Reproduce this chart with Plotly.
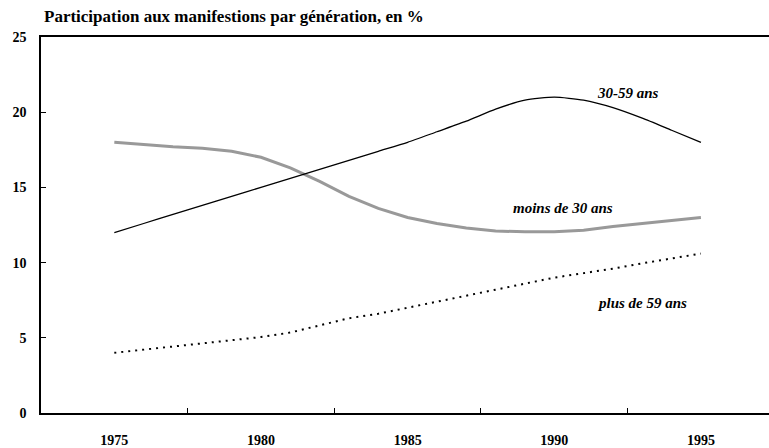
import plotly.graph_objects as go

years = list(range(1975, 1996))
age_30_59 = [12.0, 12.6, 13.2, 13.8, 14.4, 15.0, 15.6, 16.2, 16.8, 17.4, 18.0,
             18.7, 19.4, 20.2, 20.8, 21.0, 20.8, 20.3, 19.6, 18.8, 18.0]
moins_30 = [18.0, 17.85, 17.7, 17.6, 17.4, 17.0, 16.3, 15.4, 14.4, 13.6, 13.0,
            12.6, 12.3, 12.1, 12.05, 12.05, 12.15, 12.4, 12.6, 12.8, 13.0]
plus_59 = [4.0, 4.2, 4.4, 4.6, 4.8, 5.05, 5.35, 5.8, 6.3, 6.6, 7.0,
           7.4, 7.8, 8.2, 8.6, 9.0, 9.3, 9.6, 9.95, 10.3, 10.6]

label_years = [1975, 1980, 1985, 1990, 1995]
tick_marks = [1977.5, 1982.5, 1987.5, 1992.5]
y_ticks = [0, 5, 10, 15, 20, 25]

series_labels = [
    ("30-59 ans", 1992.5, 21.3),
    ("moins de 30 ans", 1990.3, 13.6),
    ("plus de 59 ans", 1993.0, 7.3),
]

serif = "Liberation Serif, Times New Roman, DejaVu Serif, serif"

fig = go.Figure()
fig.add_trace(go.Scatter(x=years, y=moins_30, mode="lines",
                         line=dict(color="#999999", width=3), showlegend=False))
fig.add_trace(go.Scatter(x=years, y=age_30_59, mode="lines",
                         line=dict(color="black", width=1.3, shape="spline", smoothing=0.6),
                         showlegend=False))
fig.add_trace(go.Scatter(x=years, y=plus_59, mode="lines",
                         line=dict(color="black", width=2, dash="2px,5px"),
                         showlegend=False))
# invisible trace on secondary axis for year labels
fig.add_trace(go.Scatter(x=label_years, y=[None]*len(label_years), xaxis="x2",
                         mode="lines", showlegend=False, hoverinfo="skip"))

for text, xv, yv in series_labels:
    fig.add_annotation(x=xv, y=yv, text=f"<b><i>{text}</i></b>", showarrow=False,
                       font=dict(family=serif, size=15, color="black"))

fig.add_annotation(xref="paper", yref="paper", x=0, y=1, xanchor="left",
                   yanchor="bottom", xshift=1, yshift=9, showarrow=False,
                   text="<b>Participation aux manifestions par génération, en %</b>",
                   font=dict(family=serif, size=17, color="black"))

x_range = [1972.5, 1972.5 + (769 - 41) / 29.33]

fig.update_layout(
    width=769, height=448,
    margin=dict(l=41, r=0, t=37, b=32),
    paper_bgcolor="white", plot_bgcolor="white",
    xaxis=dict(range=x_range, showline=True, linecolor="black", linewidth=1.5,
               mirror=True, showgrid=False, zeroline=False,
               tickvals=tick_marks, ticktext=[""] * len(tick_marks),
               ticks="inside", ticklen=5, tickcolor="black", tickwidth=1),
    xaxis2=dict(range=x_range, overlaying="x", side="bottom", showline=False,
                showgrid=False, zeroline=False, tickvals=label_years,
                ticktext=[f"<b>{v}</b>" for v in label_years], ticks="",
                ticklabelstandoff=17,
                tickfont=dict(family=serif, size=14, color="black")),
    yaxis=dict(range=[0, 25], showline=True, linecolor="black", linewidth=1.5,
               showgrid=False, zeroline=False, tickvals=y_ticks,
               ticktext=[f"<b>{v}</b>" for v in y_ticks],
               ticks="inside", ticklen=5, tickcolor="black", tickwidth=1,
               ticklabelstandoff=10,
               tickfont=dict(family=serif, size=14, color="black")),
)

fig.write_html("out.html", config={"displayModeBar": False},
               post_script="document.body.style.margin='0';document.body.style.overflow='hidden';")
